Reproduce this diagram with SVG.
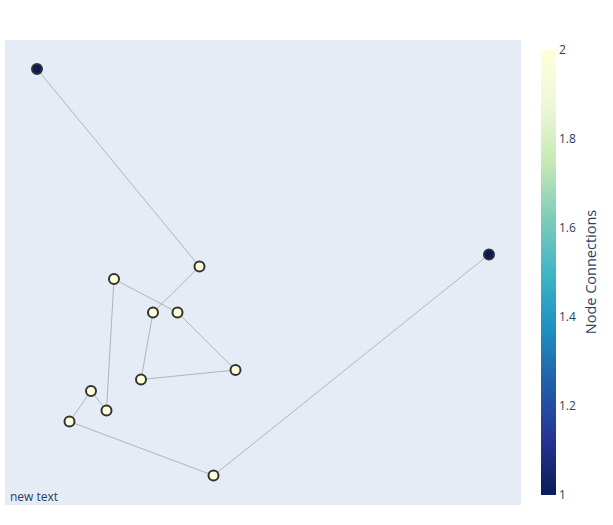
<svg xmlns="http://www.w3.org/2000/svg" width="613" height="525" viewBox="0 0 613 525">
<defs>
<linearGradient id="ylgnbu" x1="0" y1="1" x2="0" y2="0">
<stop offset="0" stop-color="rgb(8,29,88)"/>
<stop offset="0.125" stop-color="rgb(37,52,148)"/>
<stop offset="0.25" stop-color="rgb(34,94,168)"/>
<stop offset="0.375" stop-color="rgb(29,145,192)"/>
<stop offset="0.5" stop-color="rgb(65,182,196)"/>
<stop offset="0.625" stop-color="rgb(127,205,187)"/>
<stop offset="0.75" stop-color="rgb(199,233,180)"/>
<stop offset="0.875" stop-color="rgb(237,248,217)"/>
<stop offset="1" stop-color="rgb(255,255,217)"/>
</linearGradient>
</defs>
<style>
text{font-family:"Open Sans","Liberation Sans",Arial,sans-serif;fill:#2a3f5f;font-size:12px}
.edge{stroke:#999;stroke-width:0.8;fill:none;stroke-opacity:0.85}
.n circle{stroke:rgb(50,50,50);stroke-width:2}
.deg2{fill:rgb(255,255,217)}
.deg1{fill:rgb(8,29,88)}
</style>
<rect width="613" height="525" fill="#fff"/>
<rect x="5" y="40" width="516" height="465" fill="#E5ECF6"/>
<g id="edges">
<line class="edge" x1="37" y1="69" x2="199.5" y2="266.5"/>
<line class="edge" x1="199.5" y1="266.5" x2="153" y2="312.5"/>
<line class="edge" x1="114" y1="279" x2="177.5" y2="312.5"/>
<line class="edge" x1="177.5" y1="312.5" x2="235.5" y2="370"/>
<line class="edge" x1="235.5" y1="370" x2="141" y2="379.5"/>
<line class="edge" x1="141" y1="379.5" x2="153" y2="312.5"/>
<line class="edge" x1="114" y1="279" x2="106.5" y2="410.5"/>
<line class="edge" x1="106.5" y1="410.5" x2="91" y2="391"/>
<line class="edge" x1="91" y1="391" x2="69.5" y2="421.5"/>
<line class="edge" x1="69.5" y1="421.5" x2="213.5" y2="475.5"/>
<line class="edge" x1="213.5" y1="475.5" x2="489" y2="254.5"/>
</g>
<g id="nA" class="n"><circle class="deg1" cx="37" cy="69" r="5"/></g>
<g id="nB" class="n"><circle class="deg2" cx="199.5" cy="266.5" r="5"/></g>
<g id="nC" class="n"><circle class="deg2" cx="114" cy="279" r="5"/></g>
<g id="nD" class="n"><circle class="deg2" cx="153" cy="312.5" r="5"/></g>
<g id="nE" class="n"><circle class="deg2" cx="177.5" cy="312.5" r="5"/></g>
<g id="nF" class="n"><circle class="deg2" cx="235.5" cy="370" r="5"/></g>
<g id="nG" class="n"><circle class="deg2" cx="141" cy="379.5" r="5"/></g>
<g id="nH" class="n"><circle class="deg2" cx="91" cy="391" r="5"/></g>
<g id="nI" class="n"><circle class="deg2" cx="106.5" cy="410.5" r="5"/></g>
<g id="nJ" class="n"><circle class="deg2" cx="69.5" cy="421.5" r="5"/></g>
<g id="nK" class="n"><circle class="deg2" cx="213.5" cy="475.5" r="5"/></g>
<g id="nL" class="n"><circle class="deg1" cx="489" cy="254.5" r="5"/></g>
<text x="10" y="501">new text</text>
<g id="colorbar">
<rect x="541" y="50" width="15" height="445" fill="url(#ylgnbu)"/>
<text x="559" y="54">2</text>
<text x="559" y="143">1.8</text>
<text x="559" y="232">1.6</text>
<text x="559" y="321">1.4</text>
<text x="559" y="410">1.2</text>
<text x="559" y="499">1</text>
<text transform="translate(596,272) rotate(-90)" text-anchor="middle" style="font-size:14.5px">Node Connections</text>
</g>
</svg>
